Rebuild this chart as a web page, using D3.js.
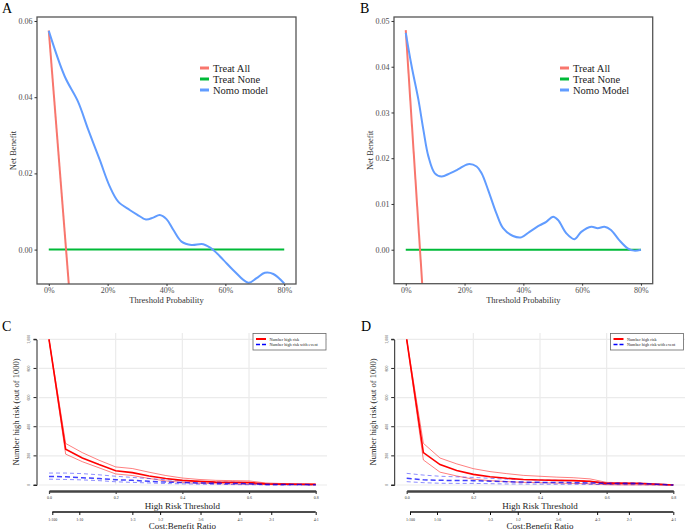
<!DOCTYPE html>
<html><head><meta charset="utf-8">
<script src="https://cdn.jsdelivr.net/npm/d3@7"></script>
<style>body{margin:0;background:#fff}svg{display:block}</style>
</head><body>
<svg id="c" width="685" height="531"></svg>
<script>
// ---------- Data: panels A & B (decision curves) ----------
const legendA = ["Treat All","Treat None","Nomo model"];
const legendB = ["Treat All","Treat None","Nomo Model"];
const xTicksDCA = [0,0.2,0.4,0.6,0.8];
const yTicksA = [0,0.02,0.04,0.06];
const yTicksB = [0,0.01,0.02,0.03,0.04,0.05];
const treatNoneX = [0,0.8];
const treatAllA = [[0,0.0575],[0.07,-0.0110]];
const treatAllB = [[0,0.048],[0.058,-0.0095]];
const nomoAx = [0,0.054,0.099,0.134,0.173,0.207,0.236,0.275,0.300,0.330,0.355,0.377,0.400,0.423,0.451,0.485,0.525,0.559,0.593,0.627,0.678,0.706,0.734,0.763,0.80];
const nomoAy = [0.0574,0.0455,0.0389,0.0315,0.0236,0.0166,0.0126,0.0104,0.0092,0.0079,0.0084,0.0091,0.0080,0.0052,0.0021,0.0012,0.0014,-0.0001,-0.0027,-0.0054,-0.0087,-0.0075,-0.0061,-0.0064,-0.0089];
const nomoBx = [0,0.020,0.043,0.060,0.077,0.099,0.122,0.150,0.179,0.212,0.241,0.258,0.280,0.308,0.331,0.365,0.393,0.421,0.455,0.478,0.501,0.518,0.546,0.574,0.597,0.631,0.653,0.676,0.698,0.726,0.755,0.777,0.80];
const nomoBy = [0.0474,0.0401,0.0328,0.0262,0.0204,0.0167,0.0160,0.0167,0.0176,0.0187,0.0182,0.0167,0.0131,0.0080,0.0047,0.0030,0.0027,0.0039,0.0053,0.0061,0.0072,0.0065,0.0036,0.0023,0.0039,0.0050,0.0047,0.0050,0.0043,0.0021,0.0003,-0.0002,0.0];

// ---------- Data: panels C & D (clinical impact) ----------
const thr = [0,0.05,0.1,0.15,0.2,0.25,0.3,0.35,0.4,0.45,0.5,0.55,0.6,0.65,0.7,0.75,0.8];
const cRed   = [1000,245,185,140,98,85,62,45,32,25,20,18,16,8,6,5,4];
const cRedUp = [1000,285,222,170,124,113,88,65,48,38,32,30,28,14,10,8,7];
const cRedLo = [1000,212,160,118,76,65,45,28,18,12,9,7,5,3,2,2,1];
const cBlue   = [58,57,50,44,36,32,25,20,17,14,12,10,9,4,3,3,2];
const cBlueUp = [82,82,78,70,60,52,44,36,30,25,22,19,17,8,6,5,4];
const cBlueLo = [40,38,35,30,22,18,14,10,8,6,4,3,2,1,0,0,0];
const dRed   = [1000,222,140,100,73,57,46,38,34,32,30,25,11,11,10,5,0];
const dRedUp = [1000,286,185,145,112,92,78,66,60,54,50,42,18,16,14,8,2];
const dRedLo = [1000,172,88,62,40,30,23,18,16,13,11,8,2,1,1,0,0];
const dBlue   = [46,36,32,31,30,26,23,20,18,17,16,14,11,10,10,5,0];
const dBlueUp = [80,68,60,56,52,46,40,37,34,32,30,25,16,15,14,7,1];
const dBlueLo = [23,16,12,11,11,9,7,7,6,5,5,4,3,2,2,1,0];
const ciXTicks = [0,0.2,0.4,0.6,0.8];
const ciXLabels = ["0.0","0.2","0.4","0.6","0.8"];
const ciYTicks = [0,200,400,600,800,1000];
const cbTicks = [0.0099,0.0909,0.25,0.3333,0.4545,0.5714,0.6667,0.8];
const cbLabels = ["1:100","1:10","1:3","1:2","5:6","4:3","2:1","4:1"];
const ciLegend = ["Number high risk","Number high risk with event"];

const svg = d3.select("#c");
const colAll="#F8766D", colNone="#00BA38", colModel="#619CFF";
const SERIF = '"Liberation Serif","Times New Roman","DejaVu Serif",serif';

function dca(opt){
  const g = svg.append("g");
  const x = d3.scaleLinear().domain([-0.04,0.84]).range([opt.left,opt.right]);
  const y = d3.scaleLinear().domain(opt.ydom).range([opt.bottom,opt.top]);
  const id = "clip"+opt.letter;
  svg.append("clipPath").attr("id",id).append("rect")
    .attr("x",opt.left).attr("y",opt.top).attr("width",opt.right-opt.left).attr("height",opt.bottom-opt.top);
  const pl = g.append("g").attr("clip-path",`url(#${id})`);
  const line = d3.line().x(d=>x(d[0])).y(d=>y(d[1]));
  pl.append("path").attr("d",line(treatNoneX.map(v=>[v,0]))).attr("stroke",colNone).attr("stroke-width",2).attr("fill","none");
  pl.append("path").attr("d",line(opt.all)).attr("stroke",colAll).attr("stroke-width",2).attr("fill","none");
  const sm = d3.line().x(d=>x(d[0])).y(d=>y(d[1])).curve(d3.curveCatmullRom.alpha(0.5));
  pl.append("path").attr("d",sm(opt.mx.map((v,i)=>[v,opt.my[i]]))).attr("stroke",colModel).attr("stroke-width",2).attr("fill","none");
  g.append("rect").attr("x",opt.left).attr("y",opt.top).attr("width",opt.right-opt.left).attr("height",opt.bottom-opt.top)
    .attr("fill","none").attr("stroke","#555").attr("stroke-width",1.3);
  const ax = g.append("g").attr("transform",`translate(0,${opt.bottom})`)
    .call(d3.axisBottom(x).tickValues(xTicksDCA).tickFormat(d3.format(".0%")).tickSize(2).tickPadding(1.5));
  const ay = g.append("g").attr("transform",`translate(${opt.left},0)`)
    .call(d3.axisLeft(y).tickValues(opt.yticks).tickFormat(d3.format(".2f")).tickSize(2.5).tickPadding(2));
  [ax,ay].forEach(a=>{a.select(".domain").remove();a.selectAll("line").attr("stroke","#333");
    a.selectAll("text").attr("fill","#4d4d4d").style("font-size","8px");});
  g.append("text").attr("x",(x(0)+x(0.8))/2).attr("y",opt.bottom+19).attr("text-anchor","middle")
    .style("font-size","8.5px").attr("fill","#333").text("Threshold Probability");
  g.append("text").attr("transform",`translate(${opt.ylabx},${(opt.top+opt.bottom)/2}) rotate(-90)`).attr("text-anchor","middle")
    .style("font-size","8.5px").attr("fill","#333").text("Net Benefit");
  g.append("text").attr("x",opt.letterx).attr("y",13).style("font-size","14px").text(opt.letter);
  const cols=[colAll,colNone,colModel];
  opt.legend.forEach((t,i)=>{
    const yy = 68 + i*11;
    g.append("line").attr("x1",opt.legx).attr("x2",opt.legx+9).attr("y1",yy).attr("y2",yy).attr("stroke",cols[i]).attr("stroke-width",3);
    g.append("text").attr("x",opt.legx+13).attr("y",yy+3.5).style("font-size","10.5px").attr("fill","#222").text(t);
  });
}

dca({letter:"A",letterx:2,left:37,right:296,top:17,bottom:284,ydom:[-0.00903,0.06105],yticks:yTicksA,
  all:treatAllA,mx:nomoAx,my:nomoAy,legend:legendA,legx:200,ylabx:16});
dca({letter:"B",letterx:360,left:394,right:652.7,top:17,bottom:283.7,ydom:[-0.00743,0.05087],yticks:yTicksB,
  all:treatAllB,mx:nomoBx,my:nomoBy,legend:legendB,legx:560,ylabx:373});

function cip(opt){
  const g = svg.append("g");
  const x = d3.scaleLinear().domain([0,0.8]).range([opt.x0,opt.x1]);
  const y = d3.scaleLinear().domain([0,1000]).range([485,339.3]);
  // grid
  ciYTicks.forEach(v=>g.append("line").attr("x1",opt.x0-10).attr("x2",opt.gridR).attr("y1",y(v)).attr("y2",y(v)).attr("stroke","#ebebeb").attr("stroke-width",1.2));
  [0.2,0.4,0.6].forEach(v=>g.append("line").attr("x1",x(v)).attr("x2",x(v)).attr("y1",333).attr("y2",485).attr("stroke","#ebebeb").attr("stroke-width",1.2));
  const line = d3.line().x((d,i)=>x(thr[i])).y(d=>y(d));
  g.append("path").attr("d",line(opt.ru)).attr("fill","none").attr("stroke","#ff0000").attr("stroke-opacity",0.5).attr("stroke-width",1);
  g.append("path").attr("d",line(opt.rl)).attr("fill","none").attr("stroke","#ff0000").attr("stroke-opacity",0.5).attr("stroke-width",1);
  g.append("path").attr("d",line(opt.bu)).attr("fill","none").attr("stroke","#0000ff").attr("stroke-opacity",0.45).attr("stroke-width",1).attr("stroke-dasharray","4,3");
  g.append("path").attr("d",line(opt.bl)).attr("fill","none").attr("stroke","#0000ff").attr("stroke-opacity",0.45).attr("stroke-width",1).attr("stroke-dasharray","4,3");
  g.append("path").attr("d",line(opt.r)).attr("fill","none").attr("stroke","#ff0000").attr("stroke-width",1.6);
  g.append("path").attr("d",line(opt.b)).attr("fill","none").attr("stroke","#0000ff").attr("stroke-opacity",0.75).attr("stroke-width",1.5).attr("stroke-dasharray","5,3");
  // y axis
  const ay = g.append("g").attr("transform",`translate(${opt.x0-12.5},0)`)
    .call(d3.axisLeft(y).tickValues(ciYTicks).tickSize(3).tickPadding(3));
  ay.select(".domain").attr("stroke","#222");
  ay.selectAll("line").attr("stroke","#222");
  ay.selectAll(".tick").attr("transform",null);
  ay.selectAll(".tick line").attr("y1",d=>y(d)).attr("y2",d=>y(d));
  ay.selectAll(".tick text").style("font-size","4px").attr("fill","#333").attr("text-anchor","middle")
    .attr("x",0).attr("y",0).attr("dy","0.32em").each(function(d){d3.select(this).attr("transform",`translate(-7.5,${y(d)}) rotate(-90)`);});
  // x axis
  const ax = g.append("g").attr("transform","translate(0,491)")
    .call(d3.axisBottom(x).tickValues(ciXTicks).tickFormat((d,i)=>ciXLabels[i]).tickSize(3).tickPadding(2).tickSizeOuter(0));
  ax.select(".domain").attr("stroke","#444").attr("stroke-width",2.5);
  ax.selectAll("line").attr("stroke","#444").attr("stroke-width",1.2);
  ax.selectAll("text").style("font-size","4px").attr("fill","#333");
  g.append("text").attr("x",(x(0)+x(0.8))/2).attr("y",508.5).attr("text-anchor","middle").style("font-size","9px").attr("fill","#222").text("High Risk Threshold");
  const cb = g.append("g").attr("transform","translate(0,512)")
    .call(d3.axisBottom(x).tickValues(cbTicks).tickFormat((d,i)=>cbLabels[i]).tickSize(3).tickPadding(3).tickSizeOuter(0));
  cb.select(".domain").attr("stroke","#111").attr("stroke-width",1.3).attr("d",`M${x(cbTicks[0])},0H${x(0.8)}`);
  cb.selectAll("line").attr("stroke","#111");
  cb.selectAll("text").style("font-size","4px").attr("fill","#333");
  g.append("text").attr("x",(x(0)+x(0.8))/2).attr("y",529).attr("text-anchor","middle").style("font-size","9px").attr("fill","#222").text("Cost:Benefit Ratio");
  g.append("text").attr("transform",`translate(${opt.ylabx},412) rotate(-90)`).attr("text-anchor","middle").style("font-size","8.5px").attr("fill","#222").text("Number high risk (out of 1000)");
  g.append("text").attr("x",opt.letterx).attr("y",331).style("font-size","14px").text(opt.letter);
  // legend
  g.append("rect").attr("x",opt.legx).attr("y",333.5).attr("width",73).attr("height",16.5).attr("fill","#fff").attr("stroke","#666").attr("stroke-width",0.8);
  g.append("line").attr("x1",opt.legx+3).attr("x2",opt.legx+13).attr("y1",339).attr("y2",339).attr("stroke","#ff0000").attr("stroke-width",2);
  g.append("line").attr("x1",opt.legx+3).attr("x2",opt.legx+13).attr("y1",344.5).attr("y2",344.5).attr("stroke","#0000ff").attr("stroke-width",1.5).attr("stroke-dasharray","4,2");
  ciLegend.forEach((t,i)=>g.append("text").attr("x",opt.legx+16.5).attr("y",340.5+i*5.5).style("font-size","4.2px").attr("fill","#222").text(t));
}

cip({x0:49,x1:315.7,gridR:327,r:cRed,ru:cRedUp,rl:cRedLo,b:cBlue,bu:cBlueUp,bl:cBlueLo,ylabx:19,letter:"C",letterx:2,legx:253});
cip({x0:406.7,x1:673.3,gridR:685,r:dRed,ru:dRedUp,rl:dRedLo,b:dBlue,bu:dBlueUp,bl:dBlueLo,ylabx:376,letter:"D",letterx:361,legx:610.5});

svg.selectAll("g").attr("font-family",null);
svg.selectAll("text").style("font-family",SERIF);
</script>
</body></html>
